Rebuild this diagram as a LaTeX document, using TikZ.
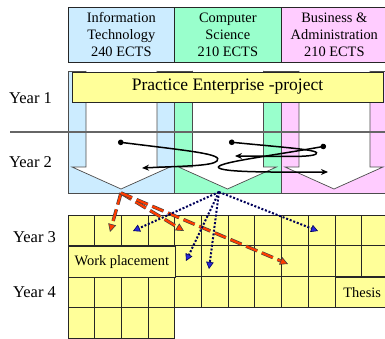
\documentclass[tikz,border=0pt]{standalone}
\usepackage{fontspec}
\setmainfont{Liberation Serif}
\usetikzlibrary{calc,backgrounds,arrows.meta}
\definecolor{bleuIT}{RGB}{204,236,255}
\definecolor{vertCS}{RGB}{153,255,204}
\definecolor{roseBA}{RGB}{255,204,255}
\definecolor{jaune}{RGB}{255,255,153}
\definecolor{rouge}{RGB}{255,60,0}
\definecolor{marine}{RGB}{0,0,90}
\definecolor{bleu}{RGB}{40,40,220}

\begin{document}
\begin{tikzpicture}[x=1pt,y=-1pt,%
    show background rectangle,%
    tight background,%
    background rectangle/.style={fill=white},%
    entete/.style={draw=black!85,minimum width=106.5pt,minimum height=55pt,inner sep=0pt,align=center,font=\fontsize{14.4}{17}\selectfont},%
    annee/.style={inner sep=0pt,font=\fontsize{16.5}{19}\selectfont},%
    colonne/.style={draw=black!70,line width=0.9pt},%
    fleche/.style={draw=black!70,fill=white,line width=0.7pt},%
    case/.style={draw=black!85,fill=jaune,line width=0.9pt},%
    parcours/.style={line width=1.5pt,{Circle[length=5.5pt]}-{Stealth[length=7pt,width=6pt]}},%
    vers/.style={draw=black!75,double=rouge,line width=0.6pt,double distance=2.2pt,dash pattern=on 12pt off 5pt,-{Triangle[length=8pt,width=8pt,fill=rouge]}},%
    choix/.style={draw=marine,line width=2pt,dash pattern=on 2pt off 1.8pt,-{Triangle[length=7pt,width=7.5pt,fill=bleu,line width=0.6pt]}}%
    ]
  \def\larg{26.7}%
  \def\haut{30.75}%
  \useasboundingbox (0,0) rectangle (385,339);%
  \clip (0,0) rectangle (385,339);%

  % Entêtes
  \node[entete,fill=bleuIT] (it) at (121.3,34.5) {Information\\Technology\\240 ECTS};%
  \node[entete,fill=vertCS] (cs) at (227.8,34.5) {Computer\\Science\\210 ECTS};%
  \node[entete,fill=roseBA] (ba) at (334.3,34.5) {Business \&\\Administration\\210 ECTS};%

  % Colonnes (années 1 et 2)
  \foreach \x/\coul in {68/bleuIT,174.5/vertCS,281/roseBA}{%
    \draw[colonne,fill=\coul] (\x,71) rectangle ++(106.5,122);%
    \draw[fleche] ({\x+18},71) -- ({\x+18},167) -- ({\x+4},167) -- ({\x+53},189)
      -- ({\x+102},167) -- ({\x+89},167) -- ({\x+89},71);%
  }
  \node[draw=black!85,fill=jaune,minimum width=311pt,minimum height=30pt,inner sep=0pt,
    font=\fontsize{17.5}{20}\selectfont] (pe) at (227.5,87) {Practice Enterprise -project};%
  \coordinate (g) at (10,132);%
  \coordinate (d) at (385,132);%
  \draw[black!60,line width=1.2pt] (g) -- (d);%

  % Années
  \node[annee] (a1) at (30.5,98) {Year 1};%
  \node[annee] (a2) at (30.5,162) {Year 2};%
  \node[annee] (a3) at (34.5,237) {Year 3};%
  \node[annee] (a4) at (34.5,292) {Year 4};%

  % Grille (années 3 et 4)
  \foreach \i in {0,...,11} \draw[case] ({68+\i*\larg},215) rectangle ++(\larg,\haut);%
  \foreach \i in {4,...,11} \draw[case] ({68+\i*\larg},{215+\haut}) rectangle ++(\larg,\haut);%
  \foreach \i in {0,...,9} \draw[case] ({68+\i*\larg},{215+2*\haut}) rectangle ++(\larg,\haut);%
  \foreach \i in {0,...,3} \draw[case] ({68+\i*\larg},{215+3*\haut}) rectangle ++(\larg,\haut);%
  \node[case,anchor=north west,minimum width=106.8pt,minimum height=\haut pt,inner sep=0pt,
    font=\fontsize{14.4}{17}\selectfont] (stage) at (68,{215+\haut}) {Work placement};%
  \node[case,anchor=north west,minimum width=53.4pt,minimum height=\haut pt,inner sep=0pt,
    font=\fontsize{14.4}{17}\selectfont] (these) at ({68+10*\larg},{215+2*\haut}) {Thesis};%

  % Parcours
  \coordinate (d1) at (118,142);%
  \coordinate (m1) at (217,161);%
  \coordinate (f1) at (142,168);%
  \coordinate (d2) at (229,142);%
  \coordinate (m2) at (316,154);%
  \coordinate (f2) at (235,156);%
  \coordinate (d3) at (326,146);%
  \coordinate (m3) at (219,168);%
  \coordinate (f3) at (328,172);%
  \draw[parcours] (d1) .. controls (190,151) and (224,154) .. (m1) .. controls (212,166) and (185,166) .. (f1);%
  \draw[parcours] (d2) .. controls (290,148) and (322,150) .. (m2) .. controls (311,158) and (270,156) .. (f2);%
  \draw[parcours] (d3) .. controls (270,156) and (212,163) .. (m3) .. controls (226,173) and (290,172) .. (f3);%

  % Flèches
  \coordinate (pIT) at (121,193);%
  \coordinate (r1) at (110,232);%
  \coordinate (r2) at (184,231);%
  \coordinate (r3) at (288,264);%
  \draw[vers] (pIT) -- (r1);%
  \draw[vers] (pIT) -- (r2);%
  \draw[vers] (pIT) -- (r3);%
  \coordinate (pCS) at (219,192);%
  \coordinate (b1) at (133,231);%
  \coordinate (b2) at (318,231);%
  \coordinate (b3) at (186,261);%
  \coordinate (b4) at (209,269);%
  \foreach \b in {b1,b2,b3,b4} \draw[choix] (pCS) -- (\b);%
\end{tikzpicture}
\end{document}
